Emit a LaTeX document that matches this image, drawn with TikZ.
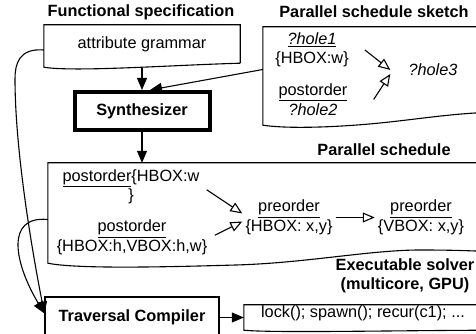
\documentclass[tikz,border=0pt]{standalone}
\usepackage{fontspec}
\setmainfont{Liberation Sans}
\usetikzlibrary{arrows.meta}

\begin{document}
\begin{tikzpicture}[x=1pt,y=1pt,
  every node/.style={font=\fontsize{16.3}{19.5}\selectfont, inner sep=3pt, align=center},
  ttl/.style={font=\fontsize{16.3}{18.5}\selectfont\bfseries},
  edge/.style={line width=1.1pt},
  box/.style={draw, line width=1.1pt, minimum height=41pt},
  doc/.style={inner sep=0pt},
  flow/.style={edge, -{Triangle[length=12pt,width=10pt]}},
  sched/.style={edge, -{Triangle[open,length=12pt,width=10pt]}}]
\useasboundingbox (0,0) rectangle (476,334);
\clip (0,0) rectangle (476,334);
% titles
\node[ttl] (tfs) at (141,322) {Functional specification};
\node[ttl] (tsk) at (374,322) {Parallel schedule sketch};
\node[ttl] (tps) at (384,184) {Parallel schedule};
\node[ttl] (tex) at (405,58) {Executable solver\\(multicore, GPU)};
% document boxes
\node[doc, minimum width=196pt, minimum height=38pt] (ag) at (142,290) {attribute grammar};
\draw[edge] (ag.south east) -- (ag.north east) -- (ag.north west) -- ([yshift=-4pt]ag.south west)
  .. controls +(30,-5) and +(-70,-2) .. (ag.south east);
\node[doc, minimum width=237pt, minimum height=85pt] (sk) at (381.5,264.5) {};
\draw[edge] (sk.south east) -- (sk.north east) -- (sk.north west) -- ([yshift=-13pt]sk.south west)
  .. controls +(27,-4) and +(-40,-4) .. (380,211) .. controls +(40,4) and +(-40,0) .. (sk.south east);
\node[doc, minimum width=452pt, minimum height=89pt] (ps) at (274,126.5) {};
\draw[edge] (ps.south east) -- (ps.north east) -- (ps.north west) -- ([yshift=-11pt]ps.south west)
  .. controls +(30,-6) and +(-70,-2) .. (236,69) .. controls +(70,2) and +(-50,0) .. (420,84)
  .. controls +(40,0) and +(-20,1) .. (ps.south east);
\node[doc, minimum width=256pt, minimum height=25pt] (lk) at (372,16.5) {};
\draw[edge] (lk.south east) -- (lk.north east) -- (lk.north west) -- (lk.south west)
  .. controls +(30,-3) and +(-90,0) .. (lk.south east);
\node (lkt) at (363,21) {lock(); spawn(); recur(c1); ...};
% plain boxes
\node[draw, line width=4pt, minimum width=135pt, minimum height=38pt, ttl] (syn) at (142,223) {Synthesizer};
\node[box, ttl, minimum width=174pt] (tc) at (132,16.5) {Traversal Compiler};
% sketch contents
\node (s1) at (312,284) {\underline{\textit{?hole1}}\\\{HBOX:w\}};
\node (s2) at (313,234.5) {\underline{postorder}\\\textit{?hole2}};
\node (s3) at (433,264) {\textit{?hole3}};
% schedule contents
\node (p1) at (131,147) {\underline{postorder}\{HBOX:w\\\}};
\node (p2) at (132,96.5) {\underline{postorder}\\\{HBOX:h,VBOX:h,w\}};
\node (p3) at (289,116.5) {\underline{preorder}\\\{HBOX: x,y\}};
\node (p4) at (421,116.5) {\underline{preorder}\\\{VBOX: x,y\}};
% connectors
\draw[flow] ([yshift=-5pt]ag.south) -- (syn.north);
\draw[flow] (sk.west) -- ([xshift=8pt]syn.north);
\draw[flow] (syn.south) -- (syn.south |- ps.north);
\draw[flow] (tc.east) -- (lk.west);
\draw[flow] ([yshift=-6pt]ag.west) .. controls +(-25,2) and +(0,15) .. (15,255)
  .. controls +(0,-80) and +(-8,40) .. ([yshift=4pt]tc.west);
\draw[flow] ([yshift=-12pt]ps.west) .. controls +(-43,4) and +(-30,50) .. ([yshift=4pt]tc.west);
\draw[sched] ([xshift=13pt]s1.east) -- ([xshift=-15pt]s3.west);
\draw[sched] ([xshift=23pt]s2.east) -- ([xshift=-15pt,yshift=-4pt]s3.west);
\draw[sched, shorten <=5pt] (p1.east) -- ([yshift=4pt]p3.west);
\draw[sched, shorten <=5pt] (p2.east) -- ([yshift=-4pt]p3.west);
\draw[sched] (p3.east) -- (p4.west);
\end{tikzpicture}
\end{document}
